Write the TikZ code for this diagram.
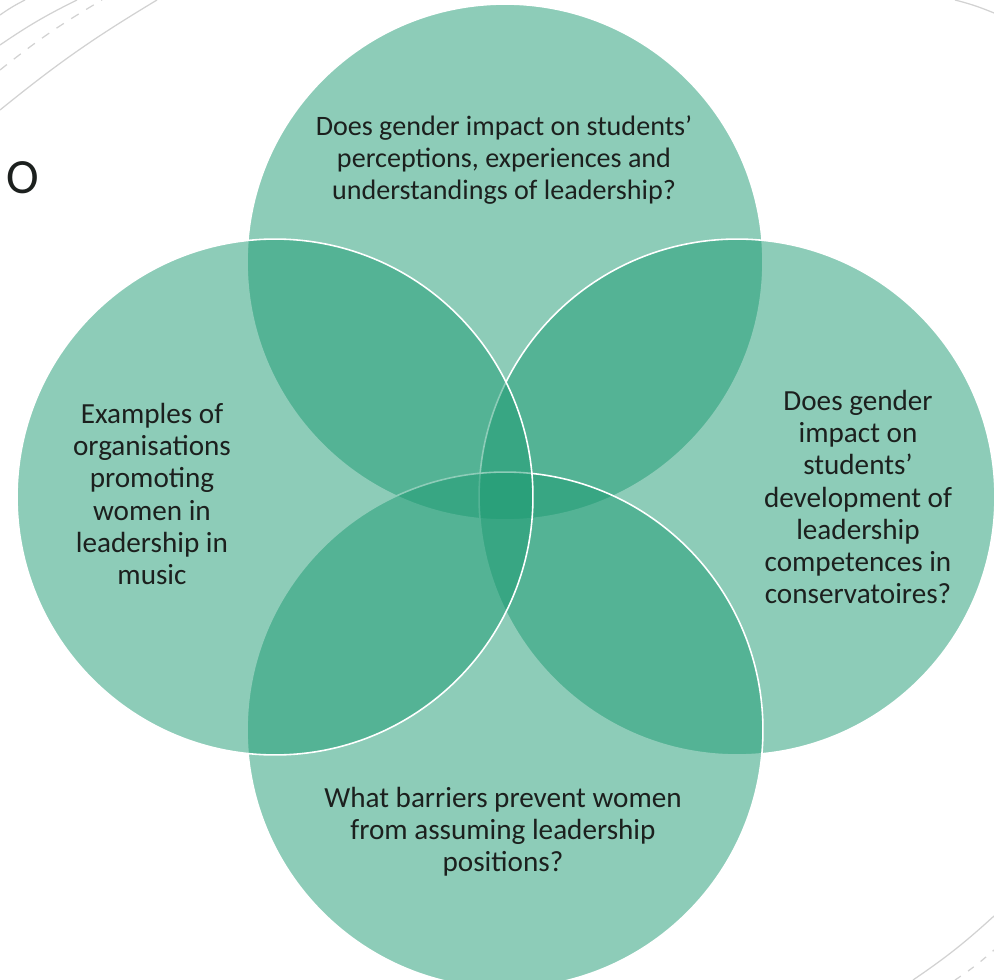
\documentclass[tikz,border=0pt]{standalone}
\usepackage{fontspec}
\setmainfont{Carlito}
\definecolor{vennbase}{RGB}{29,155,115}
\definecolor{txtdark}{RGB}{28,32,30}
\definecolor{decogray}{RGB}{210,210,210}
\begin{document}
\begin{tikzpicture}[x=0.02cm,y=-0.02cm,
  vennc/.style={circle, minimum size=10.32cm, inner sep=0pt, fill=vennbase, fill opacity=0.5, draw=white, draw opacity=1, line width=0.9pt},
  venntxt/.style={align=center, text=txtdark, font=\fontsize{16.6}{18.3}\selectfont, inner sep=0pt},
  deco/.style={draw=decogray, line width=0.7pt}]
\useasboundingbox (0,0) rectangle (994,980);
\clip (0,0) rectangle (994,980);
\fill[white] (0,0) rectangle (994,980);
% decorative arcs
\coordinate (d1a) at (0,15);  \coordinate (d1b) at (25,0);
\coordinate (d2a) at (0,45);  \coordinate (d2b) at (77,0);
\coordinate (d3a) at (0,70);  \coordinate (d3b) at (102,0);
\coordinate (d4a) at (0,110); \coordinate (d4b) at (157,0);
\draw[deco] (d1a) to[bend left=4] (d1b);
\draw[deco] (d2a) to[bend left=4] (d2b);
\draw[deco, dashed, dash pattern=on 5pt off 5pt] (d3a) to[bend left=4] (d3b);
\draw[deco] (d4a) to[bend left=4] (d4b);
\coordinate (d5a) at (955,0); \coordinate (d5b) at (994,13);
\draw[deco] (d5a) to[bend left=4] (d5b);
\coordinate (d6a) at (913,980); \coordinate (d6b) at (994,916);
\coordinate (d7a) at (955,980); \coordinate (d7b) at (994,950);
\draw[deco] (d6a) to[bend right=4] (d6b);
\draw[deco, dashed, dash pattern=on 4pt off 5pt] (d7a) to[bend right=4] (d7b);
% partial title
\node[anchor=west, text=txtdark, font=\fontsize{28}{32}\selectfont, inner sep=0pt] (ttl) at (6,178) {O};
% venn circles
\node[vennc] (ctop) at (505,262) {};
\node[vennc] (cright) at (737,497) {};
\node[vennc] (cbottom) at (505,730) {};
\node[vennc] (cleft) at (275,497) {};
% texts
\node[venntxt, font=\fontsize{16}{18.3}\selectfont] (ttop) at (504,160) {Does gender impact on students’\\perceptions, experiences and\\understandings of leadership?};
\node[venntxt] (tleft) at (152,494) {Examples of\\organisations\\promoting\\women in\\leadership in\\music};
\node[venntxt] (tright) at (858,497) {Does gender\\impact on\\students’\\development of\\leadership\\competences in\\conservatoires?};
\node[venntxt] (tbottom) at (503,832) {What barriers prevent women\\from assuming leadership\\positions?};
\end{tikzpicture}
\end{document}
